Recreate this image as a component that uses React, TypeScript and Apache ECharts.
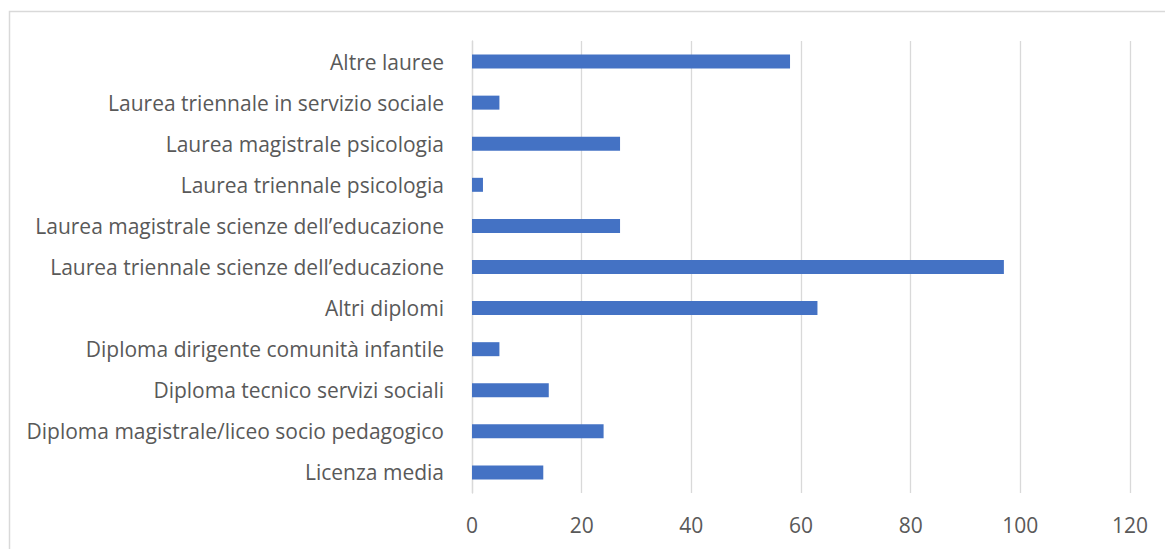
import React, { useEffect, useRef } from "react";
import * as echarts from "echarts";

const categories = [
  "Licenza media",
  "Diploma magistrale/liceo socio pedagogico",
  "Diploma tecnico servizi sociali",
  "Diploma dirigente comunità infantile",
  "Altri diplomi",
  "Laurea triennale scienze dell’educazione",
  "Laurea magistrale scienze dell’educazione",
  "Laurea triennale psicologia",
  "Laurea magistrale psicologia",
  "Laurea triennale in servizio sociale",
  "Altre lauree",
];
const values = [13, 24, 14, 5, 63, 97, 27, 2, 27, 5, 58];

const FONT = "'Open Sans', sans-serif";

export default function App() {
  const ref = useRef<HTMLDivElement>(null);
  useEffect(() => {
    if (!ref.current) return;
    const chart = echarts.init(ref.current, null, { renderer: "svg" });
    chart.setOption({
      animation: false,
      backgroundColor: "#ffffff",
      graphic: [
        {
          type: "rect",
          shape: { x: 9.5, y: 11.5, width: 1200, height: 600 },
          style: { fill: "none", stroke: "#d9d9d9", lineWidth: 1.5 },
          silent: true,
        },
      ],
      grid: { left: 472, right: 35, top: 41, bottom: 56, containLabel: false },
      xAxis: {
        type: "value",
        min: 0,
        max: 120,
        interval: 20,
        axisLine: { show: false },
        axisTick: { show: false },
        splitLine: { show: true, lineStyle: { color: "#d9d9d9", width: 1.3 } },
        axisLabel: { color: "#595959", fontFamily: FONT, fontSize: 21, margin: 21 },
      },
      yAxis: {
        type: "category",
        data: categories,
        axisLine: { show: true, lineStyle: { color: "#d9d9d9", width: 1.3 } },
        axisTick: { show: false },
        axisLabel: { color: "#595959", fontFamily: FONT, fontSize: 21, margin: 28 },
      },
      series: [
        {
          type: "bar",
          data: values,
          barWidth: 14,
          itemStyle: { color: "#4472c4" },
        },
      ],
    });
    return () => chart.dispose();
  }, []);
  return (
    <div
      ref={ref}
      style={{ position: "fixed", left: 0, top: 0, width: 1165, height: 549 }}
    />
  );
}
